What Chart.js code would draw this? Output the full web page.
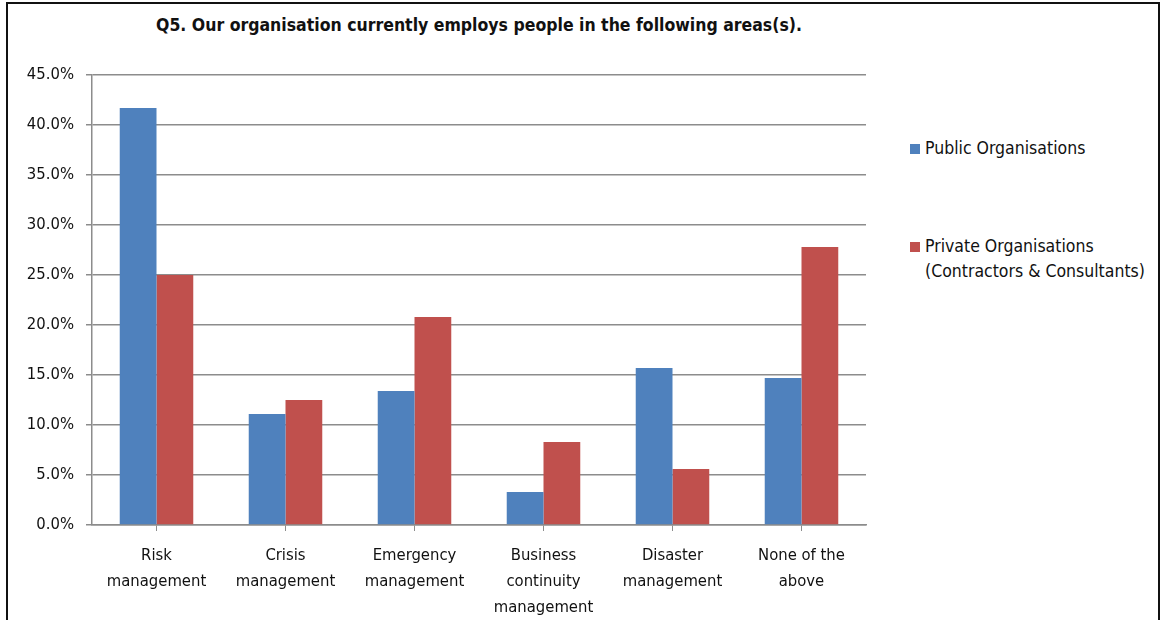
<!DOCTYPE html>
<html>
<head>
<meta charset="utf-8">
<script src="https://cdn.jsdelivr.net/npm/chart.js@4"></script>
<style>
  body { margin: 0; background: #fff; width: 1161px; height: 620px; overflow: hidden; position: relative; }
  #frame { position: absolute; left: 6px; top: 2px; width: 1150px; height: 700px; border: 2px solid #111; }
  #wrap { position: absolute; left: 0; top: 0; width: 880px; height: 620px; }
  #title { position: absolute; left: 92px; width: 774px; top: 15px; text-align: center;
    font: bold 17.5px "Liberation Sans Narrow", "DejaVu Sans Condensed", sans-serif; color: #111; }
  .leg { position: absolute; left: 925px; font: 17.5px "Liberation Sans Narrow", "DejaVu Sans Condensed", sans-serif; color: #111; line-height: 25px; }
  .sw { position: absolute; left: -15px; top: 8px; width: 10px; height: 10px; }
</style>
</head>
<body>
<div id="frame"></div>
<div id="title">Q5. Our organisation currently employs people in the following areas(s).</div>
<div id="wrap"><canvas id="chart" width="880" height="620"></canvas></div>
<div class="leg" style="top:136px"><span class="sw" style="background:#4F81BD"></span>Public Organisations</div>
<div class="leg" style="top:234px"><span class="sw" style="background:#C0504D"></span>Private Organisations<br>(Contractors &amp; Consultants)</div>
<script>
const categories = [
  ["Risk", "management"],
  ["Crisis", "management"],
  ["Emergency", "management"],
  ["Business", "continuity", "management"],
  ["Disaster", "management"],
  ["None of the", "above"]
];
const publicOrgs = [41.7, 11.1, 13.4, 3.3, 15.7, 14.7];
const privateOrgs = [25.0, 12.5, 20.8, 8.3, 5.6, 27.8];

const labelFont = { family: '"Liberation Sans Narrow", "DejaVu Sans Condensed", sans-serif', size: 16.5 };

new Chart(document.getElementById('chart').getContext('2d'), {
  type: 'bar',
  data: {
    labels: categories,
    datasets: [
      { label: 'Public Organisations', data: publicOrgs, backgroundColor: '#4F81BD' },
      { label: 'Private Organisations (Contractors & Consultants)', data: privateOrgs, backgroundColor: '#C0504D' }
    ]
  },
  options: {
    responsive: false,
    animation: false,
    layout: { padding: { top: 75, right: 14, left: 0, bottom: 0 } },
    datasets: { bar: { barPercentage: 1, categoryPercentage: 0.57 } },
    plugins: { legend: { display: false }, tooltip: { enabled: false } },
    scales: {
      x: {
        grid: { offset: false, drawOnChartArea: false, color: '#8c8c8c', tickLength: 6 },
        border: { color: '#8c8c8c', width: 1.5 },
        ticks: { color: '#111', font: { ...labelFont, lineHeight: 1.58 }, padding: 12, maxRotation: 0, autoSkip: false },
        afterFit: s => { s.height = 95; }
      },
      y: {
        min: 0, max: 45,
        grid: { color: '#8c8c8c', lineWidth: 1.5, tickLength: 6 },
        border: { color: '#8c8c8c', width: 1.5 },
        ticks: { stepSize: 5, color: '#111', font: labelFont, padding: 12, callback: v => v.toFixed(1) + '%' },
        afterFit: s => { s.width = 92; }
      }
    }
  }
});
</script>
</body>
</html>
